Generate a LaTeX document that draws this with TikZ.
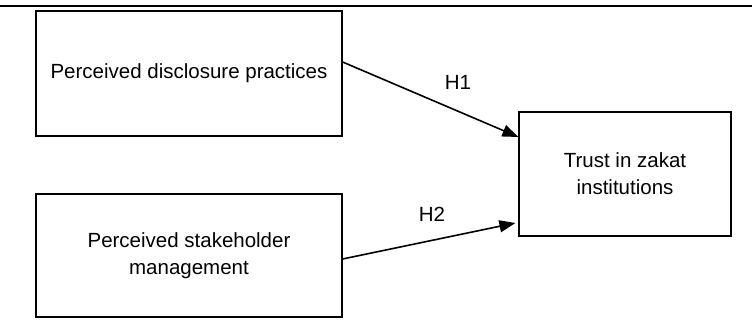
\documentclass[tikz,border=0pt]{standalone}
\usepackage{fontspec}
\setmainfont{Liberation Sans}
\usetikzlibrary{arrows.meta}

\begin{document}
\begin{tikzpicture}[x=1pt,y=1pt,
    box/.style={draw,line width=1.2pt,align=center,inner sep=0pt,
      font=\fontsize{20.5}{27}\selectfont},
    link/.style={line width=1.6pt,-{Triangle[length=16pt,width=12pt]}}]
  \useasboundingbox (0,0) rectangle (752,323);
  \draw[line width=2pt] (0,317) -- (752,317);

  \node[box,minimum width=306pt,minimum height=125pt] (disc) at (189,249.5) {Perceived disclosure practices};
  \node[box,minimum width=306pt,minimum height=123pt] (stake) at (189,67.5) {Perceived stakeholder\\management};
  \node[box,minimum width=212pt,minimum height=124pt] (trust) at (625,149) {Trust in zakat\\institutions};

  \draw[link] ([yshift=11.5pt]disc.east) -- ([yshift=37pt]trust.west);
  \draw[link] ([yshift=-3.5pt]stake.east) -- ([xshift=-3pt,yshift=-49pt]trust.west);

  \node[font=\fontsize{20.5}{25}\selectfont] (h1) at (458,241) {H1};
  \node[font=\fontsize{20.5}{25}\selectfont] (h2) at (432,109) {H2};
\end{tikzpicture}
\end{document}
